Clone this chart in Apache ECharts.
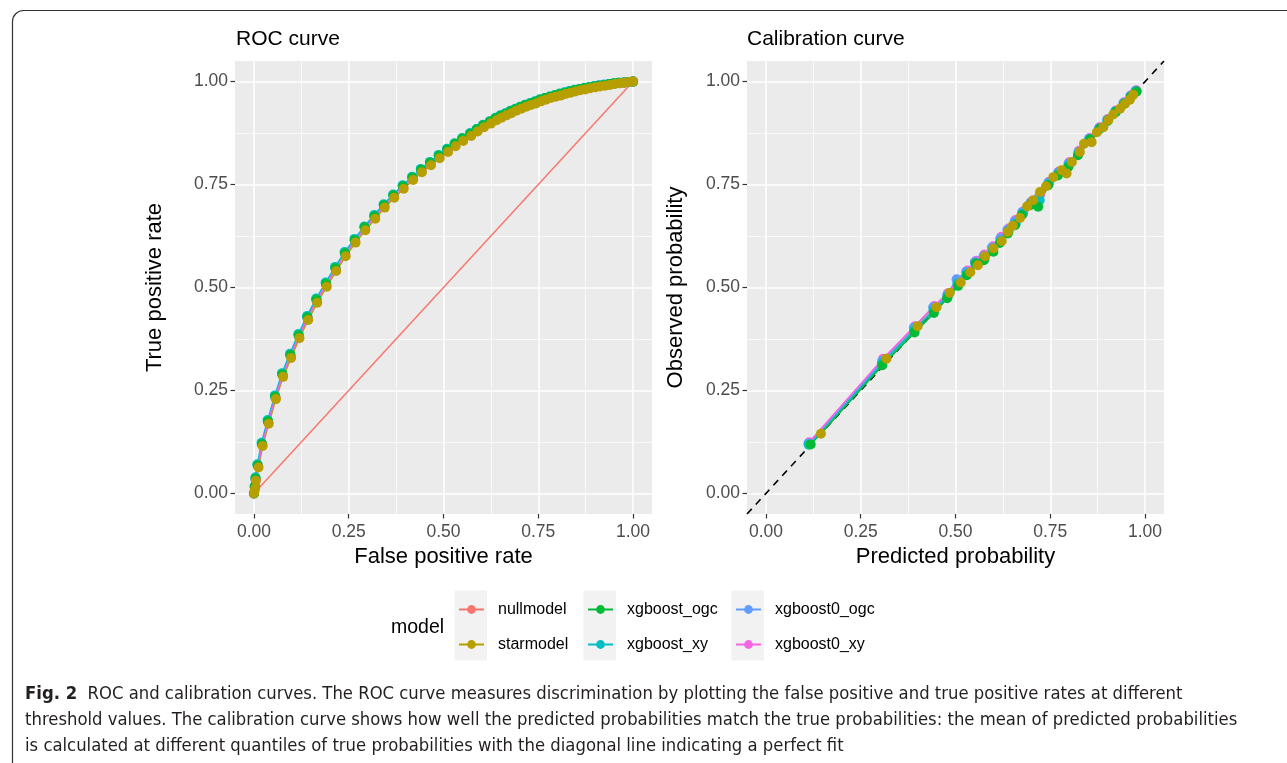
<!DOCTYPE html>
<html><head><meta charset="utf-8">
<script src="https://cdn.jsdelivr.net/npm/echarts@6/dist/echarts.min.js"></script>
<style>html,body{margin:0;padding:0;background:#fff}#c{width:1287px;height:763px}</style>
</head><body><div id="c"></div>
<script>
// ---------- data ----------
const modelNames = ['nullmodel','starmodel','xgboost_ogc','xgboost_xy','xgboost0_ogc','xgboost0_xy'];
const modelColors = ['#F8766D','#B79F00','#00BA38','#00BFC4','#619CFF','#F564E3'];
const tickValues = [0, 0.25, 0.5, 0.75, 1];
const minorTickValues = [0.125, 0.375, 0.625, 0.875];
const panelTitles = ['ROC curve', 'Calibration curve'];
const xTitles = ['False positive rate', 'Predicted probability'];
const yTitles = ['True positive rate', 'Observed probability'];
const legendTitle = 'model';
const captionBold = 'Fig. 2';
const captionLines = [
  'ROC and calibration curves. The ROC curve measures discrimination by plotting the false positive and true positive rates at different',
  'threshold values. The calibration curve shows how well the predicted probabilities match the true probabilities: the mean of predicted probabilities',
  'is calculated at different quantiles of true probabilities with the diagonal line indicating a perfect fit'
];

// ROC curves: [false positive rate, true positive rate]
const rocNull = [[0,0],[1,1]];
const rocStar = [[0,0],[0.003,0.011],[0.005,0.031],[0.012,0.063],[0.023,0.115],[0.039,0.169],[0.058,0.229],[0.077,0.283],[0.098,0.329],[0.120,0.377],[0.143,0.421],[0.167,0.463],[0.192,0.502],[0.217,0.540],[0.242,0.576],[0.268,0.609],[0.294,0.639],[0.320,0.667],[0.345,0.694],[0.370,0.718],[0.395,0.740],[0.420,0.761],[0.443,0.780],[0.467,0.797],[0.490,0.814],[0.512,0.829],[0.532,0.843],[0.552,0.856],[0.573,0.868],[0.590,0.879],[0.607,0.889],[0.625,0.898],[0.640,0.906],[0.653,0.912],[0.666,0.918],[0.679,0.923],[0.692,0.929],[0.705,0.934],[0.718,0.939],[0.731,0.943],[0.744,0.947],[0.757,0.952],[0.770,0.956],[0.783,0.960],[0.796,0.963],[0.809,0.966],[0.822,0.970],[0.835,0.973],[0.848,0.976],[0.861,0.979],[0.874,0.981],[0.887,0.984],[0.900,0.986],[0.913,0.988],[0.926,0.990],[0.939,0.992],[0.952,0.994],[0.965,0.996],[0.978,0.997],[0.989,0.999],[1,1]];
const rocXgbOgc = [[0,0],[0.002,0.016],[0.004,0.036],[0.010,0.068],[0.021,0.120],[0.037,0.175],[0.056,0.235],[0.075,0.289],[0.096,0.336],[0.118,0.384],[0.141,0.428],[0.165,0.470],[0.190,0.509],[0.215,0.547],[0.240,0.583],[0.266,0.615],[0.292,0.646],[0.318,0.673],[0.343,0.700],[0.368,0.724],[0.393,0.746],[0.418,0.767],[0.441,0.786],[0.465,0.803],[0.488,0.820],[0.510,0.835],[0.530,0.849],[0.550,0.862],[0.571,0.873],[0.588,0.884],[0.605,0.894],[0.623,0.903],[0.638,0.911],[0.651,0.917],[0.664,0.922],[0.677,0.928],[0.690,0.933],[0.703,0.938],[0.716,0.943],[0.729,0.947],[0.742,0.951],[0.755,0.956],[0.768,0.960],[0.781,0.963],[0.794,0.967],[0.807,0.970],[0.820,0.973],[0.833,0.976],[0.846,0.979],[0.859,0.982],[0.872,0.984],[0.885,0.986],[0.898,0.988],[0.911,0.990],[0.924,0.992],[0.937,0.994],[0.950,0.996],[0.963,0.997],[0.976,0.998],[0.988,0.999],[1,1]];
const rocXgbXy = [[0,0],[0.002,0.018],[0.004,0.039],[0.009,0.071],[0.020,0.123],[0.036,0.178],[0.055,0.238],[0.074,0.292],[0.095,0.339],[0.117,0.387],[0.140,0.431],[0.164,0.473],[0.189,0.512],[0.214,0.550],[0.239,0.586],[0.265,0.618],[0.291,0.648],[0.317,0.676],[0.342,0.702],[0.367,0.726],[0.392,0.748],[0.417,0.769],[0.440,0.788],[0.464,0.805],[0.487,0.822],[0.509,0.837],[0.529,0.850],[0.549,0.863],[0.570,0.875],[0.587,0.885],[0.604,0.895],[0.622,0.904],[0.637,0.912],[0.650,0.918],[0.663,0.923],[0.676,0.929],[0.689,0.934],[0.702,0.939],[0.715,0.944],[0.728,0.948],[0.741,0.952],[0.754,0.957],[0.767,0.960],[0.780,0.964],[0.793,0.967],[0.806,0.971],[0.819,0.974],[0.832,0.977],[0.845,0.980],[0.858,0.982],[0.871,0.985],[0.884,0.987],[0.897,0.989],[0.910,0.991],[0.923,0.993],[0.936,0.994],[0.949,0.996],[0.962,0.997],[0.975,0.998],[0.988,0.999],[1,1]];
const rocXgb0Ogc = [[0,0],[0.002,0.015],[0.004,0.035],[0.010,0.067],[0.021,0.119],[0.037,0.174],[0.056,0.234],[0.075,0.288],[0.096,0.335],[0.118,0.383],[0.141,0.427],[0.165,0.469],[0.190,0.508],[0.215,0.546],[0.240,0.582],[0.266,0.614],[0.292,0.645],[0.318,0.672],[0.343,0.699],[0.368,0.723],[0.393,0.745],[0.418,0.766],[0.441,0.785],[0.465,0.802],[0.488,0.819],[0.510,0.834],[0.530,0.848],[0.550,0.861],[0.571,0.873],[0.588,0.883],[0.605,0.893],[0.623,0.902],[0.638,0.910],[0.651,0.916],[0.664,0.922],[0.677,0.927],[0.690,0.933],[0.703,0.938],[0.716,0.942],[0.729,0.947],[0.742,0.951],[0.755,0.955],[0.768,0.959],[0.781,0.963],[0.794,0.966],[0.807,0.970],[0.820,0.973],[0.833,0.976],[0.846,0.979],[0.859,0.981],[0.872,0.984],[0.885,0.986],[0.898,0.988],[0.911,0.990],[0.924,0.992],[0.937,0.994],[0.950,0.995],[0.963,0.997],[0.976,0.998],[0.988,0.999],[1,1]];
const rocXgb0Xy = [[0,0],[0.003,0.014],[0.005,0.034],[0.011,0.066],[0.022,0.118],[0.038,0.173],[0.057,0.233],[0.076,0.287],[0.097,0.334],[0.119,0.382],[0.142,0.426],[0.166,0.468],[0.191,0.507],[0.216,0.545],[0.241,0.581],[0.267,0.613],[0.293,0.644],[0.319,0.671],[0.344,0.698],[0.369,0.722],[0.394,0.744],[0.419,0.765],[0.442,0.784],[0.466,0.801],[0.489,0.818],[0.511,0.833],[0.531,0.847],[0.551,0.860],[0.572,0.872],[0.589,0.882],[0.606,0.892],[0.624,0.901],[0.639,0.909],[0.652,0.915],[0.665,0.921],[0.678,0.926],[0.691,0.932],[0.704,0.937],[0.717,0.942],[0.730,0.946],[0.743,0.950],[0.756,0.955],[0.769,0.959],[0.782,0.962],[0.795,0.966],[0.808,0.969],[0.821,0.972],[0.834,0.975],[0.847,0.978],[0.860,0.981],[0.873,0.983],[0.886,0.986],[0.899,0.988],[0.912,0.990],[0.925,0.992],[0.938,0.993],[0.951,0.995],[0.964,0.996],[0.977,0.998],[0.989,0.999],[1,1]];

// Calibration curves: [predicted probability, observed probability]
const calDiagonal = [[-0.05,-0.05],[1.05,1.05]];
const calStar = [[0.145,0.145],[0.318,0.327],[0.400,0.406],[0.450,0.452],[0.485,0.487],[0.514,0.512],[0.539,0.537],[0.559,0.554],[0.578,0.576],[0.600,0.595],[0.622,0.613],[0.638,0.635],[0.651,0.650],[0.670,0.669],[0.689,0.697],[0.705,0.712],[0.723,0.732],[0.739,0.746],[0.758,0.768],[0.780,0.785],[0.793,0.777],[0.807,0.805],[0.828,0.829],[0.839,0.849],[0.859,0.853],[0.873,0.877],[0.890,0.889],[0.903,0.906],[0.916,0.920],[0.934,0.934],[0.947,0.946],[0.960,0.956],[0.969,0.968]];
const calXgbOgc = [[0.118,0.119],[0.307,0.311],[0.392,0.391],[0.443,0.438],[0.478,0.474],[0.507,0.504],[0.530,0.530],[0.553,0.559],[0.575,0.566],[0.600,0.587],[0.617,0.608],[0.638,0.631],[0.657,0.651],[0.675,0.676],[0.697,0.700],[0.718,0.696],[0.744,0.748],[0.770,0.772],[0.797,0.792],[0.823,0.821],[0.855,0.860],[0.881,0.886],[0.902,0.906],[0.923,0.927],[0.945,0.947],[0.963,0.964],[0.978,0.976]];
const calXgbXy = [[0.113,0.118],[0.306,0.316],[0.391,0.396],[0.442,0.444],[0.480,0.479],[0.505,0.510],[0.531,0.534],[0.556,0.557],[0.577,0.572],[0.598,0.592],[0.620,0.613],[0.640,0.636],[0.659,0.655],[0.678,0.679],[0.699,0.702],[0.722,0.712],[0.746,0.751],[0.771,0.775],[0.799,0.797],[0.825,0.826],[0.853,0.858],[0.879,0.884],[0.901,0.904],[0.922,0.925],[0.944,0.945],[0.962,0.962],[0.976,0.975]];
const calXgb0Ogc = [[0.112,0.121],[0.307,0.322],[0.390,0.403],[0.441,0.452],[0.478,0.482],[0.503,0.520],[0.528,0.538],[0.551,0.562],[0.574,0.576],[0.596,0.597],[0.618,0.619],[0.637,0.640],[0.656,0.660],[0.676,0.683],[0.698,0.706],[0.721,0.722],[0.745,0.755],[0.771,0.779],[0.798,0.801],[0.824,0.829],[0.852,0.861],[0.878,0.886],[0.900,0.907],[0.921,0.928],[0.943,0.948],[0.961,0.965],[0.975,0.978]];
const calXgb0Xy = [[0.114,0.124],[0.309,0.327],[0.393,0.406],[0.444,0.455],[0.480,0.486],[0.506,0.517],[0.532,0.541],[0.555,0.565],[0.576,0.580],[0.599,0.600],[0.621,0.623],[0.640,0.643],[0.658,0.664],[0.679,0.685],[0.700,0.708],[0.723,0.725],[0.747,0.757],[0.772,0.781],[0.800,0.804],[0.826,0.832],[0.854,0.863],[0.880,0.889],[0.902,0.909],[0.923,0.930],[0.945,0.950],[0.963,0.967],[0.977,0.979]];

// ---------- chart ----------
const FONT = '"Liberation Sans", Arial, Helvetica, sans-serif';
const CAP_FONT = '"Liberation Sans Narrow", "DejaVu Sans Condensed", sans-serif';
const chart = echarts.init(document.getElementById('c'), null, {renderer: 'canvas'});

const colorOf = n => modelColors[modelNames.indexOf(n)];

function majorAxis(dim, g, name, nameGap) {
  return {
    type: 'value', gridIndex: g, min: -0.05, max: 1.05,
    name: name, nameLocation: 'middle', nameGap: nameGap,
    nameTextStyle: {fontSize: 22, color: '#000', fontFamily: FONT},
    axisLine: {show: false, onZero: false},
    axisTick: {show: true, length: 4.5, lineStyle: {color: '#333', width: 1.2}, customValues: tickValues},
    axisLabel: {customValues: tickValues, formatter: v => v.toFixed(2), fontSize: 17.5, color: '#4D4D4D',
                fontFamily: FONT, margin: dim === 'x' ? 9 : 7},
    splitLine: {show: true, lineStyle: {color: '#FFFFFF', width: 1.5}},
    z: 1
  };
}
function minorAxis(g) {
  return {
    type: 'value', gridIndex: g, min: -0.05, max: 1.05,
    axisLine: {show: false, onZero: false},
    axisTick: {show: false, customValues: minorTickValues},
    axisLabel: {show: false, customValues: minorTickValues},
    splitLine: {show: true, lineStyle: {color: '#FFFFFF', width: 0.7}},
    z: 0
  };
}

function lineS(name, data, g, width) {
  return {type: 'line', name: name, xAxisIndex: g * 2, yAxisIndex: g * 2, data: data,
    symbol: 'circle', showSymbol: false, silent: true, animation: false,
    lineStyle: {color: colorOf(name), width: width}, itemStyle: {color: colorOf(name)}, z: 2};
}
function pointS(name, data, g) {
  return {type: 'scatter', name: name, xAxisIndex: g * 2, yAxisIndex: g * 2, data: data,
    symbol: 'circle', symbolSize: 10, silent: true, animation: false,
    itemStyle: {color: colorOf(name), opacity: 1}, z: 3};
}

const rocData = {nullmodel: rocNull, starmodel: rocStar, xgboost_ogc: rocXgbOgc, xgboost_xy: rocXgbXy, xgboost0_ogc: rocXgb0Ogc, xgboost0_xy: rocXgb0Xy};
const calData = {starmodel: calStar, xgboost_ogc: calXgbOgc, xgboost_xy: calXgbXy, xgboost0_ogc: calXgb0Ogc, xgboost0_xy: calXgb0Xy};

const lineOrder = ['nullmodel','starmodel','xgboost_ogc','xgboost_xy','xgboost0_ogc','xgboost0_xy'];
const pointOrder = ['nullmodel','xgboost0_xy','xgboost0_ogc','xgboost_xy','xgboost_ogc','starmodel'];

const series = [];
lineOrder.forEach(n => series.push(lineS(n, rocData[n], 0, 1.5)));
series.push({type: 'line', name: 'diagonal', xAxisIndex: 2, yAxisIndex: 2, data: calDiagonal,
  showSymbol: false, silent: true, animation: false, z: 2,
  lineStyle: {color: '#000', width: 1.6, type: [7, 6]}});
lineOrder.filter(n => calData[n]).forEach(n => series.push(lineS(n, calData[n], 1, 1.8)));
pointOrder.forEach(n => series.push(pointS(n, rocData[n], 0)));
pointOrder.filter(n => calData[n]).forEach(n => series.push(pointS(n, calData[n], 1)));

// caption font size fitted to the reference line widths
const mctx = document.createElement('canvas').getContext('2d');
mctx.font = '20px ' + CAP_FONT;
const capW = mctx.measureText(captionBold + '  ' + captionLines[0]).width + mctx.measureText(captionLines[1]).width + mctx.measureText(captionLines[2]).width;
const capSize = Math.min(20, 20 * (1115 + 1247 + 821) / capW);

function legendCol(names, left) {
  return {data: names, orient: 'vertical', left: left, top: 601.5, padding: 0,
    itemWidth: 25, itemHeight: 11, itemGap: 19, selectedMode: false,
    textStyle: {fontSize: 16, color: '#000', fontFamily: FONT, lineHeight: 11, padding: [0, 0, 0, 9]}};
}

const keyRects = [454.5, 583.5, 731.5].map(x => ({
  type: 'rect', shape: {x: x, y: 590.5, width: 32.5, height: 70}, style: {fill: '#F2F2F2'}, z: 0, silent: true
}));

const option = {
  backgroundColor: '#FFFFFF',
  animation: false,
  textStyle: {fontFamily: FONT},
  grid: [
    {left: 235, top: 61, width: 417, height: 453, show: true, backgroundColor: '#EBEBEB', borderWidth: 0},
    {left: 747, top: 61, width: 417, height: 453, show: true, backgroundColor: '#EBEBEB', borderWidth: 0}
  ],
  xAxis: [majorAxis('x', 0, xTitles[0], 32), minorAxis(0), majorAxis('x', 1, xTitles[1], 32), minorAxis(1)],
  yAxis: [majorAxis('y', 0, yTitles[0], 69), minorAxis(0), majorAxis('y', 1, yTitles[1], 60), minorAxis(1)],
  legend: [
    legendCol(['nullmodel','starmodel'], 458),
    legendCol(['xgboost_ogc','xgboost_xy'], 587),
    legendCol(['xgboost0_ogc','xgboost0_xy'], 735)
  ],
  graphic: [
    {type: 'rect', shape: {x: 12.5, y: 10.5, width: 1300, height: 770, r: 11},
     style: {fill: 'none', stroke: '#333', lineWidth: 1.2}, silent: true, z: 0},
    {type: 'text', x: 236, y: 39, style: {text: panelTitles[0], fill: '#000', font: '21px ' + FONT, verticalAlign: 'middle'}, silent: true},
    {type: 'text', x: 747, y: 39, style: {text: panelTitles[1], fill: '#000', font: '21px ' + FONT, verticalAlign: 'middle'}, silent: true},
    {type: 'text', x: 391, y: 628, style: {text: legendTitle, font: '19.5px ' + FONT, fill: '#000', verticalAlign: 'middle'}, silent: true},
    ...keyRects,
    {type: 'text', x: 25, y: 694, silent: true, style: {
      text: '{b|' + captionBold + '}  ' + captionLines[0], verticalAlign: 'middle',
      font: capSize + 'px ' + CAP_FONT, fill: '#231F20',
      rich: {b: {fontWeight: 'bold', fontSize: capSize, fontFamily: CAP_FONT, fill: '#231F20'}}}},
    {type: 'text', x: 25, y: 720, silent: true, style: {text: captionLines[1], verticalAlign: 'middle', font: capSize + 'px ' + CAP_FONT, fill: '#231F20'}},
    {type: 'text', x: 25, y: 746, silent: true, style: {text: captionLines[2], verticalAlign: 'middle', font: capSize + 'px ' + CAP_FONT, fill: '#231F20'}}
  ],
  series: series
};
chart.setOption(option);
</script></body></html>
